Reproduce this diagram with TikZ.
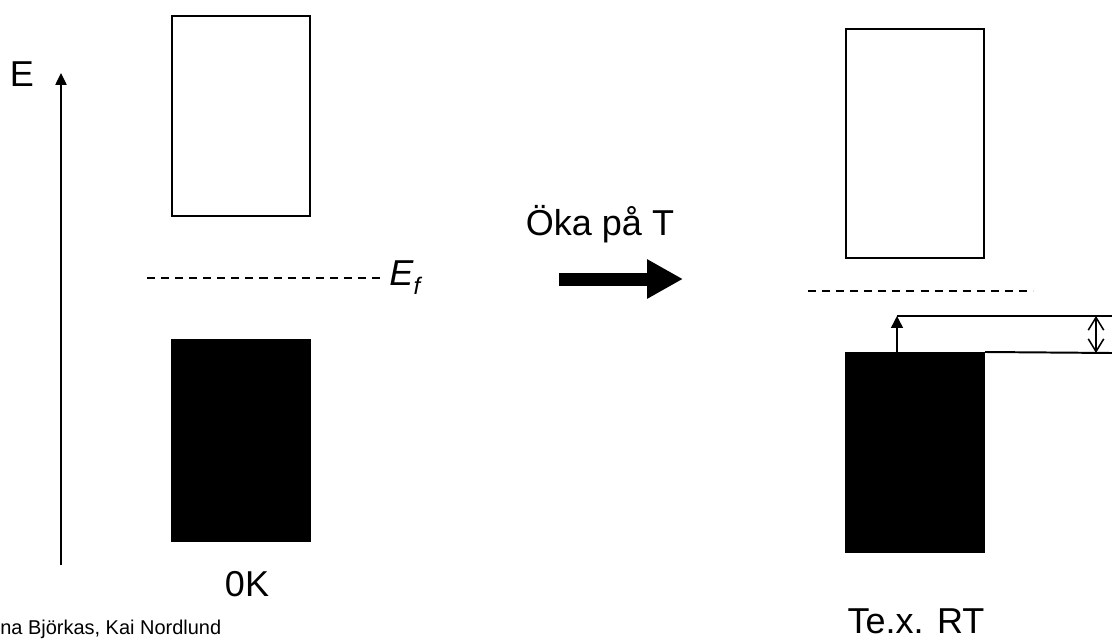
\documentclass[tikz,border=0pt]{standalone}
\usepackage{fontspec}
\setmainfont{Liberation Sans}
\usetikzlibrary{arrows.meta}

\begin{document}
\begin{tikzpicture}[x=0.025cm, y=-0.025cm]
    \useasboundingbox (0, 0) rectangle (1112, 639);

    % Define the bands at 0K
    \begin{scope}[xshift=0cm, yshift=0cm]
        \node[font=\fontsize{25.6}{30}\selectfont, anchor=base] (E) at (22, 86) {E};
        \coordinate (Ebot) at (61, 565);
        \coordinate (Etop) at (61, 73);

        \node[draw, line width=1.4pt, minimum width=3.45cm, minimum height=5cm, inner sep=0] (cb1) at (241, 116) {};
        \node[draw, fill=black, line width=1.4pt, minimum width=3.45cm, minimum height=5cm, inner sep=0] (vb1) at (241, 440.5) {};

        \coordinate (f1) at (147, 278);
        \coordinate (f2) at (385, 278);
        \node[font=\fontsize{25.6}{30}\selectfont, anchor=base west, inner sep=0] (Ef) at (389, 285) {\textit{E}\raisebox{-7pt}{\fontsize{17}{20}\selectfont\textit{f}}};

        \node[font=\fontsize{25.6}{30}\selectfont, anchor=base] (0K) at (247, 596) {0K};
        \node[font=\fontsize{14.2}{17}\selectfont, anchor=base west, inner sep=0] (names) at (0, 634) {na Björkas, Kai Nordlund};

        % Draw the axis and the Fermi level
        \draw[line width=1.1pt, -{Triangle[length=8.5pt, width=8pt]}] (Ebot) -- (Etop);
        \draw[line width=1.4pt, dash pattern=on 5.7pt off 4.3pt] (f1) -- (f2);
    \end{scope}

    % Define the arrow in the middle
    \begin{scope}[xshift=0cm, yshift=0cm]
        \node[font=\fontsize{25.6}{30}\selectfont, anchor=base] (T) at (600, 235) {Öka på T};
        \coordinate (a1) at (559, 279);
        \coordinate (a2) at (683, 279);

        \draw[line width=9.25pt, -{Triangle[length=25.6pt, width=26.3pt]}] (a1) -- (a2);
    \end{scope}

    % Define the bands at RT
    \begin{scope}[xshift=0cm, yshift=0cm]
        \node[draw, line width=1.4pt, minimum width=3.45cm, minimum height=5.725cm, inner sep=0] (cb2) at (915, 143.5) {};
        \node[draw, fill=black, line width=1.4pt, minimum width=3.45cm, minimum height=4.975cm, inner sep=0] (vb2) at (915, 452.5) {};

        \coordinate (f3) at (808, 291);
        \coordinate (f4) at (1033, 291);
        \coordinate (lvl) at (897, 316);
        \coordinate (lvlend) at (1112, 316);
        \coordinate (vbend) at (1112, 353);
        \coordinate (gap1) at (1096, 316);
        \coordinate (gap2) at (1096, 353);

        \node[font=\fontsize{25.6}{30}\selectfont, anchor=base] (RT) at (916, 633) {Te.x. RT};

        % Draw the lines between the levels
        \draw[line width=1.4pt, dash pattern=on 5.7pt off 4.3pt] (f3) -- (f4);
        \draw[line width=1.4pt] (lvl) -- (lvlend);
        \draw[line width=1.4pt] (vb2.north east) -- (vbend);
        \draw[line width=1.1pt, -{Triangle[length=8.5pt, width=8.5pt]}] (lvl |- vb2.north) -- (lvl);
        \draw[line width=1.1pt, {Straight Barb[length=9pt, width=11pt]}-{Straight Barb[length=9pt, width=11pt]}] (gap1) -- (gap2);
    \end{scope}
\end{tikzpicture}
\end{document}
